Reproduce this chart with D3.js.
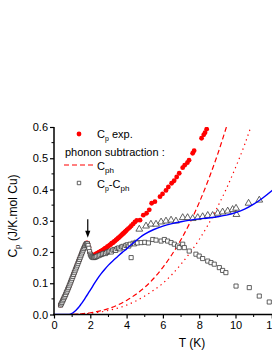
<!DOCTYPE html>
<html lang="en">
<head>
<meta charset="UTF-8">
<title>Cp vs T</title>
<script src="https://d3js.org/d3.v7.min.js"></script>
<style>
  body { margin: 0; background: #fff; }
  text { font-family: "Liberation Sans", Arial, sans-serif; }
</style>
</head>
<body>
<script>
// experimental Cp (red dots)
var expT = [0.36,0.42,0.48,0.54,0.60,0.66,0.72,0.78,0.84,0.90,0.96,1.02,1.08,1.14,1.20,1.26,1.32,1.38,1.44,1.50,1.56,1.62,1.68,1.74,1.80,1.86,1.92,1.98,
  2.04,2.10,2.16,2.22,2.28,2.34,2.40,2.46,2.52,2.58,2.64,2.70,2.76,2.82,2.88,2.94,3.00,3.06,3.12,3.18,3.24,3.30,3.36,3.42,3.48,3.54,3.60,3.66,3.72,3.78,3.84,3.90,3.96,4.02,
  4.10,4.18,4.26,4.36,4.46,4.56,4.74,4.92,5.10,5.25,5.38,5.56,5.84,5.98,6.17,6.30,6.48,6.62,6.76,6.90,7.09,7.20,7.35,7.44,7.64,7.72,8.13,8.25,8.32,8.41];
var expC = [0.030,0.037,0.044,0.052,0.059,0.067,0.075,0.084,0.092,0.101,0.110,0.119,0.128,0.137,0.147,0.156,0.165,0.174,0.183,0.192,0.201,0.209,0.217,0.224,0.229,0.228,0.215,0.199,
  0.193,0.190,0.189,0.191,0.192,0.195,0.196,0.199,0.200,0.203,0.204,0.207,0.209,0.212,0.213,0.217,0.219,0.222,0.224,0.228,0.229,0.233,0.235,0.239,0.241,0.245,0.247,0.251,0.254,0.258,0.260,0.264,0.267,0.271,
  0.275,0.279,0.284,0.290,0.296,0.301,0.302,0.318,0.324,0.335,0.356,0.361,0.377,0.386,0.397,0.408,0.420,0.428,0.440,0.452,0.470,0.478,0.486,0.494,0.516,0.524,0.564,0.575,0.582,0.593];

// Cp - Cph (open squares)
var diffT = [0.36,0.40,0.44,0.48,0.52,0.56,0.60,0.64,0.68,0.72,0.76,0.80,0.84,0.88,0.92,0.96,1.00,1.04,1.08,1.12,1.16,1.20,1.24,1.28,1.32,1.36,1.40,1.44,1.48,1.52,1.56,1.60,1.64,1.68,1.72,1.76,1.80,1.84,1.88,1.92,1.96,2.00,2.04,2.08,2.12,2.18,2.24,2.30,
  2.36,2.44,2.52,2.60,2.68,2.76,2.84,2.92,3.00,3.08,3.16,3.24,3.32,3.40,3.48,3.56,3.64,3.72,3.80,3.88,3.96,4.04,4.12,4.20,4.25,4.36,4.44,4.52,4.60,
  4.80,5.00,5.20,5.44,5.62,5.90,6.08,6.26,6.45,6.63,6.81,6.90,7.09,7.18,7.45,7.82,8.00,8.19,8.47,8.65,8.83,9.11,9.29,9.47,10.03,10.76,11.31,11.86];
var diffC = [0.030,0.034,0.039,0.044,0.049,0.054,0.059,0.064,0.070,0.075,0.081,0.086,0.092,0.098,0.104,0.110,0.116,0.122,0.128,0.134,0.140,0.146,0.152,0.158,0.164,0.170,0.176,0.182,0.188,0.194,0.200,0.206,0.211,0.216,0.221,0.225,0.227,0.226,0.221,0.212,0.201,0.193,0.188,0.185,0.183,0.182,0.183,0.184,
  0.186,0.188,0.190,0.192,0.194,0.196,0.195,0.199,0.201,0.203,0.200,0.206,0.208,0.205,0.211,0.213,0.210,0.216,0.218,0.214,0.221,0.223,0.219,0.225,0.182,0.228,0.226,0.231,0.229,
  0.230,0.231,0.229,0.240,0.238,0.235,0.240,0.235,0.230,0.225,0.219,0.214,0.225,0.214,0.203,0.193,0.187,0.179,0.171,0.166,0.161,0.150,0.141,0.134,0.091,0.086,0.059,0.040];

// open triangles
var triT = [4.70,5.07,5.34,5.62,5.90,6.17,6.45,6.72,7.09,7.36,7.64,7.92,8.19,8.47,8.74,9.02,9.29,9.57,9.84,10.03,10.05,10.72,11.31];
var triC = [0.273,0.283,0.289,0.289,0.296,0.299,0.302,0.299,0.310,0.310,0.307,0.310,0.313,0.317,0.317,0.324,0.328,0.331,0.336,0.340,0.320,0.356,0.366];

// blue fit curve
var fitT = [0,0.8,0.9,1.0,1.1,1.2,1.3,1.4,1.5,1.6,1.7,1.8,1.9,2.0,2.2,2.4,2.6,2.8,3.0,3.25,3.5,3.75,4.0,4.25,4.5,4.75,5.0,5.5,6.0,6.5,7.0,7.5,8.0,8.5,9.0,9.5,10.0,10.5,11.0,11.5,12.0,12.2];
var fitC = [0,0,0.001,0.004,0.008,0.013,0.019,0.026,0.034,0.042,0.051,0.060,0.069,0.078,0.097,0.115,0.131,0.145,0.158,0.172,0.185,0.198,0.210,0.223,0.235,0.247,0.257,0.272,0.283,0.291,0.297,0.302,0.306,0.309,0.313,0.318,0.326,0.337,0.353,0.373,0.396,0.406];

// phonon contribution (dashed) and alternative (dotted)
var phT = [1.0,1.5,2.0,2.5,3.0,3.5,4.0,4.5,5.0,5.5,6.0,6.5,7.0,7.5,8.0,8.5,9.0,9.5];
var phC = [0.0007,0.0024,0.0056,0.011,0.019,0.030,0.045,0.064,0.087,0.116,0.151,0.192,0.240,0.295,0.358,0.430,0.510,0.600];
var ph2T = [1.0,2.0,3.0,4.0,5.0,5.5,6.0,6.5,7.0,7.5,8.0,8.5,9.0,9.5,10.0,10.5,10.9];
var ph2C = [0.0005,0.0038,0.013,0.030,0.059,0.078,0.100,0.128,0.161,0.198,0.240,0.288,0.343,0.403,0.470,0.543,0.610];

var xTicks = [0,2,4,6,8,10,12];
var yTicks = [0,0.1,0.2,0.3,0.4,0.5,0.6];

var W = 272, H = 352;
var x = d3.scaleLinear().domain([0,12]).range([54,271.8]);
var y = d3.scaleLinear().domain([0,0.6]).range([314.5,127]);

var svg = d3.select("body").append("svg")
    .attr("width", W)
    .attr("height", H);

svg.append("defs").append("clipPath")
    .attr("id", "plot")
    .append("rect")
    .attr("x", 54).attr("y", 127)
    .attr("width", W - 54).attr("height", 314.5 - 127);

var plot = svg.append("g").attr("clip-path", "url(#plot)");

function pts(ts, cs) { return ts.map(function (t, i) { return [t, cs[i]]; }); }

var line = d3.line()
    .x(function (d) { return x(d[0]); })
    .y(function (d) { return y(d[1]); })
    .curve(d3.curveMonotoneX);

// phonon lines
plot.append("path")
    .attr("d", line(pts(phT, phC)))
    .attr("fill", "none")
    .attr("stroke", "#ff0000")
    .attr("stroke-width", 1.2)
    .attr("stroke-dasharray", "5,3");

plot.append("path")
    .attr("d", line(pts(ph2T, ph2C)))
    .attr("fill", "none")
    .attr("stroke", "#ff0000")
    .attr("stroke-width", 1.2)
    .attr("stroke-dasharray", "1.3,3.7");

// experimental points
plot.append("g")
    .selectAll("circle")
    .data(pts(expT, expC))
    .enter()
    .append("circle")
    .attr("cx", function (d) { return x(d[0]); })
    .attr("cy", function (d) { return y(d[1]); })
    .attr("r", 2.4)
    .attr("fill", "#ff0000");

// Cp - Cph squares
var sq = d3.symbol().type(d3.symbolSquare).size(17);
plot.append("g")
    .selectAll("path")
    .data(pts(diffT, diffC))
    .enter()
    .append("path")
    .attr("d", sq)
    .attr("transform", function (d) { return "translate(" + x(d[0]) + "," + y(d[1]) + ")"; })
    .attr("fill", "white")
    .attr("stroke", "#3a3a3a")
    .attr("stroke-width", 0.8);

// triangles
var tri = d3.symbol().type(d3.symbolTriangle).size(20);
plot.append("g")
    .selectAll("path")
    .data(pts(triT, triC))
    .enter()
    .append("path")
    .attr("d", tri)
    .attr("transform", function (d) { return "translate(" + x(d[0]) + "," + y(d[1]) + ")"; })
    .attr("fill", "white")
    .attr("stroke", "#3a3a3a")
    .attr("stroke-width", 0.8);

// blue fit
plot.append("path")
    .attr("d", line(pts(fitT, fitC)))
    .attr("fill", "none")
    .attr("stroke", "#0000ff")
    .attr("stroke-width", 1.4);

// arrow marking the peak
var ax = x(1.86);
svg.append("line")
    .attr("x1", ax).attr("x2", ax)
    .attr("y1", y(0.305)).attr("y2", y(0.262))
    .attr("stroke", "black")
    .attr("stroke-width", 1.2);
svg.append("path")
    .attr("d", "M" + (ax - 2.6) + "," + y(0.268) + " L" + (ax + 2.6) + "," + y(0.268) + " L" + ax + "," + y(0.246) + " Z")
    .attr("fill", "black");

// axes
var xAxis = svg.append("g")
    .attr("transform", "translate(0,314.5)")
    .call(d3.axisBottom(x).tickValues(xTicks).tickSize(4).tickSizeOuter(0).tickFormat(d3.format("d")));
xAxis.select(".domain").remove();
xAxis.append("line")
    .attr("x1", 53).attr("x2", W)
    .attr("stroke", "black").attr("stroke-width", 1.5);
xAxis.selectAll(".tick line").attr("stroke-width", 1.2);
xAxis.selectAll(".tick text")
    .attr("y", 7)
    .attr("font-size", "11px")
    .attr("fill", "black")
    .attr("font-family", "Liberation Sans, Arial, sans-serif");
xAxis.selectAll(".minor")
    .data(d3.range(1, 13, 2))
    .enter()
    .append("line")
    .attr("x1", function (d) { return x(d); })
    .attr("x2", function (d) { return x(d); })
    .attr("y1", 0).attr("y2", 2.5)
    .attr("stroke", "black");

var yAxis = svg.append("g")
    .attr("transform", "translate(54,0)")
    .call(d3.axisLeft(y).tickValues(yTicks).tickSize(4).tickSizeOuter(0).tickFormat(d3.format(".1f")));
yAxis.select(".domain").remove();
yAxis.append("line")
    .attr("y1", 127).attr("y2", 315.2)
    .attr("stroke", "black").attr("stroke-width", 1.5);
yAxis.selectAll(".tick line").attr("stroke-width", 1.2);
yAxis.selectAll(".tick text")
    .attr("x", -6)
    .attr("font-size", "11px")
    .attr("fill", "black")
    .attr("font-family", "Liberation Sans, Arial, sans-serif");
yAxis.selectAll(".minor")
    .data([0.05,0.15,0.25,0.35,0.45,0.55])
    .enter()
    .append("line")
    .attr("y1", function (d) { return y(d); })
    .attr("y2", function (d) { return y(d); })
    .attr("x1", 0).attr("x2", -2.5)
    .attr("stroke", "black");

// axis titles
svg.append("text")
    .attr("x", 192)
    .attr("y", 347)
    .attr("text-anchor", "middle")
    .attr("font-size", "12px")
    .text("T (K)");

var yl = svg.append("text")
    .attr("transform", "translate(17,216) rotate(-90)")
    .attr("text-anchor", "middle")
    .attr("font-size", "12px");
yl.append("tspan").text("C");
yl.append("tspan").attr("font-size", "8px").attr("dy", 3).text("p");
yl.append("tspan").attr("dy", -3).text(" (J/K.mol Cu)");

// legend
var leg = svg.append("g");
leg.append("circle")
    .attr("cx", 79).attr("cy", 134)
    .attr("r", 2.4)
    .attr("fill", "#ff0000");
var t1 = leg.append("text").attr("x", 97).attr("y", 138).attr("font-size", "11px");
t1.append("tspan").text("C");
t1.append("tspan").attr("font-size", "7px").attr("dy", 3).text("p");
t1.append("tspan").attr("dy", -3).text(" exp.");

leg.append("text")
    .attr("x", 65).attr("y", 156)
    .attr("font-size", "11px")
    .text("phonon subtraction :");

leg.append("line")
    .attr("x1", 64).attr("x2", 96)
    .attr("y1", 165).attr("y2", 165)
    .attr("stroke", "#ff0000")
    .attr("stroke-width", 1.2)
    .attr("stroke-dasharray", "5,3");
var t2 = leg.append("text").attr("x", 97).attr("y", 169.5).attr("font-size", "11px");
t2.append("tspan").text("C");
t2.append("tspan").attr("font-size", "8px").attr("dy", 3).text("ph");

leg.append("path")
    .attr("d", d3.symbol().type(d3.symbolSquare).size(12)())
    .attr("transform", "translate(79,183)")
    .attr("fill", "white")
    .attr("stroke", "#3a3a3a")
    .attr("stroke-width", 0.8);
var t3 = leg.append("text").attr("x", 97).attr("y", 188).attr("font-size", "11px");
t3.append("tspan").text("C");
t3.append("tspan").attr("font-size", "7px").attr("dy", 3).text("p");
t3.append("tspan").attr("dy", -3).text("-C");
t3.append("tspan").attr("font-size", "8px").attr("dy", 3).text("ph");
</script>
</body>
</html>
